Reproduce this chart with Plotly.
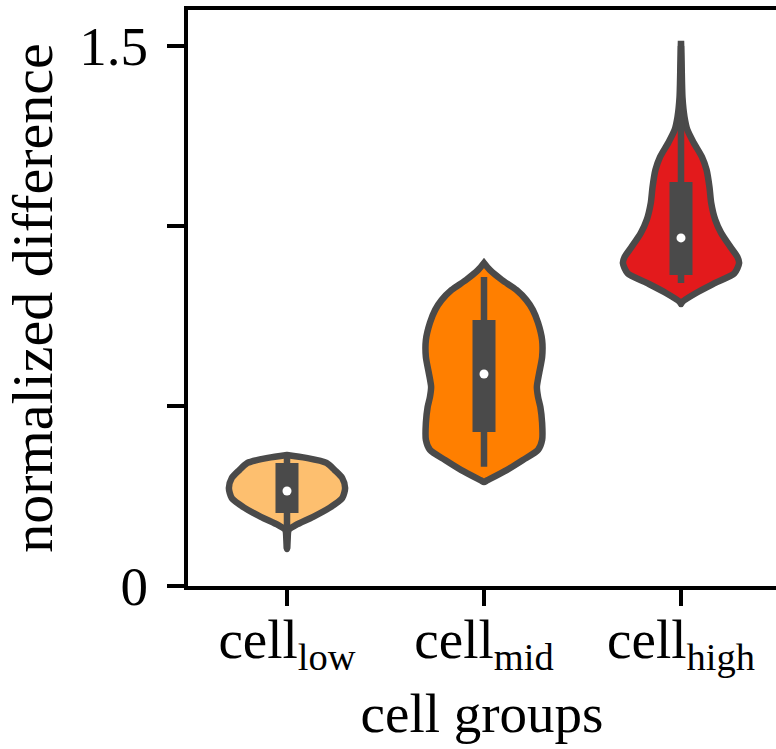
import plotly.graph_objects as go

# ---- data -------------------------------------------------------------
categories = ["low", "mid", "high"]
tick_labels = ["cell<sub>low</sub>", "cell<sub>mid</sub>", "cell<sub>high</sub>"]
fill_colors = ["#FDBF6F", "#FF7F00", "#E31A1C"]

# kernel density profile of each group: value levels and relative density
low_levels = [0.103, 0.128, 0.156, 0.169, 0.192, 0.217, 0.244, 0.272, 0.300, 0.322, 0.342, 0.356, 0.364]
low_density = [0.0, 0.01, 0.03, 0.15, 0.45, 0.73, 0.95, 1.0, 0.95, 0.82, 0.68, 0.33, 0.0]

mid_levels = [0.289, 0.294, 0.322, 0.350, 0.378, 0.406, 0.453, 0.497, 0.525, 0.553, 0.592,
              0.636, 0.683, 0.731, 0.767, 0.794, 0.822, 0.850, 0.878, 0.897]
mid_density = [0.0, 0.06, 0.39, 0.67, 0.93, 1.0, 1.0, 0.97, 0.93, 0.91, 0.95,
               1.0, 1.0, 0.93, 0.84, 0.73, 0.56, 0.31, 0.10, 0.0]

high_levels = [0.783, 0.789, 0.814, 0.842, 0.869, 0.897, 0.914, 0.942, 0.981, 1.017, 1.064,
               1.108, 1.156, 1.192, 1.231, 1.267, 1.303, 1.358, 1.453, 1.514]
high_density = [0.0, 0.02, 0.26, 0.59, 0.92, 1.0, 0.97, 0.85, 0.69, 0.59, 0.52,
                0.49, 0.44, 0.36, 0.22, 0.11, 0.06, 0.025, 0.01, 0.0]

# box summary: lower whisker, q1, median, q3, upper whisker
whisker_low = [0.103, 0.331, 0.842]
q1 = [0.203, 0.428, 0.864]
median = [0.264, 0.589, 0.967]
q3 = [0.342, 0.739, 1.122]
whisker_high = [0.364, 0.858, 1.500]

levels = [low_levels, mid_levels, high_levels]
densities = [low_density, mid_density, high_density]

# ---- styling ----------------------------------------------------------
HALF_WIDTH = 0.295
EDGE = "#4A4A4A"
FONT = "Liberation Serif"
FONT_SIZE = 55

fig = go.Figure()

for i, name in enumerate(categories):
    ys = levels[i]
    ds = densities[i]
    xs_right = [i + HALF_WIDTH * d for d in ds]
    xs_left = [i - HALF_WIDTH * d for d in ds]
    px = xs_right + xs_left[::-1]
    py = ys + ys[::-1]
    fig.add_trace(go.Scatter(
        x=px, y=py, mode="lines", fill="toself", fillcolor=fill_colors[i],
        line=dict(color=EDGE, width=6.5, shape="spline", smoothing=0.7),
        hoverinfo="skip", showlegend=False,
    ))
    # whiskers
    fig.add_trace(go.Scatter(
        x=[i, i], y=[whisker_low[i], whisker_high[i]], mode="lines",
        line=dict(color=EDGE, width=6.5), hoverinfo="skip", showlegend=False,
    ))
    # interquartile box
    fig.add_trace(go.Scatter(
        x=[i, i], y=[q1[i], q3[i]], mode="lines",
        line=dict(color=EDGE, width=23), hoverinfo="skip", showlegend=False,
    ))
    # median
    fig.add_trace(go.Scatter(
        x=[i], y=[median[i]], mode="markers",
        marker=dict(color="white", size=9, line=dict(width=0)),
        hoverinfo="skip", showlegend=False,
    ))

fig.update_layout(
    width=776, height=749,
    margin=dict(l=188, r=0, t=10, b=163),
    plot_bgcolor="white", paper_bgcolor="white",
    font=dict(family=FONT, size=FONT_SIZE, color="black"),
    showlegend=False,
)

fig.update_xaxes(
    range=[-0.5025, 2.4822],
    tickvals=[0, 1, 2], ticktext=tick_labels,
    tickfont=dict(family=FONT, size=FONT_SIZE, color="black"),
    ticklabelstandoff=-14,
    showline=True, linecolor="black", linewidth=4, mirror=True,
    ticks="outside", ticklen=16, tickwidth=3.5, tickcolor="black",
    showgrid=False, zeroline=False,
    title=dict(text="cell groups", standoff=18,
               font=dict(family=FONT, size=FONT_SIZE, color="black")),
)
fig.update_yaxes(
    range=[0, 1.6],
    tickvals=[0, 0.5, 1.0, 1.5], ticktext=["0", "", "", "1.5"],
    tickfont=dict(family=FONT, size=FONT_SIZE, color="black"),
    ticklabelstandoff=8,
    showline=True, linecolor="black", linewidth=4, mirror=False,
    ticks="outside", ticklen=17, tickwidth=3.5, tickcolor="black",
    showgrid=False, zeroline=False,
    title=dict(text="normalized difference", standoff=10,
               font=dict(family=FONT, size=58, color="black")),
)

fig.write_html("out.html")
